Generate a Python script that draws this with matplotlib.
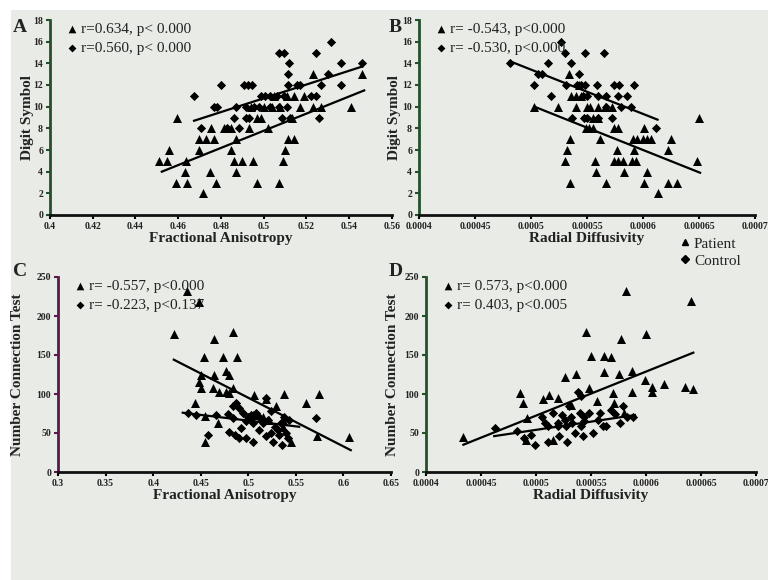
import matplotlib.pyplot as plt
from matplotlib.patches import Rectangle
from matplotlib.lines import Line2D
from matplotlib.ticker import FormatStrFormatter

# ---- panel A : Fractional Anisotropy vs Digit Symbol
a_pat_x = [0.451, 0.4546, 0.4557, 0.4595, 0.459, 0.4635, 0.463, 0.464, 0.4697, 0.4697,
           0.4715, 0.473, 0.4754, 0.4765, 0.475, 0.4777, 0.4815, 0.4846, 0.4846, 0.486,
           0.487, 0.487, 0.49, 0.493, 0.495, 0.497, 0.494, 0.497, 0.4985, 0.502,
           0.504, 0.507, 0.5077, 0.509, 0.51, 0.5115, 0.514, 0.513, 0.514, 0.519,
           0.517, 0.523, 0.523, 0.527, 0.541, 0.546, 0.511, 0.505, 0.5]
a_pat_y = [5, 5, 6, 9, 3, 5, 4, 3, 7, 6,
           2, 7, 8, 7, 4, 3, 8, 8, 6, 5,
           7, 4, 5, 8, 5, 3, 10, 9, 9, 8,
           10, 3, 10, 5, 6, 7, 7, 9, 11, 11,
           10, 13, 10, 10, 10, 13, 11, 11, 10]
a_con_x = [0.4672, 0.4705, 0.4766, 0.478, 0.48, 0.483, 0.486, 0.487, 0.4885, 0.4908,
           0.4926, 0.4946, 0.4915, 0.4915, 0.493, 0.4954, 0.4977, 0.4985, 0.5008, 0.503,
           0.503, 0.506, 0.507, 0.507, 0.5095, 0.5085, 0.512, 0.5115, 0.5115, 0.511,
           0.5125, 0.5154, 0.517, 0.5223, 0.5246, 0.5246, 0.526, 0.527, 0.53, 0.5315,
           0.536, 0.536, 0.546, 0.5095]
a_con_y = [11, 8, 10, 10, 12, 8, 9, 10, 8, 12,
           12, 12, 10, 9, 9, 10, 10, 11, 11, 11,
           10, 11, 10, 15, 15, 9, 14, 13, 12, 10,
           9, 12, 12, 11, 15, 11, 9, 12, 13, 16,
           14, 12, 14, 11]
a_fit_pat = ([0.4523, 0.547], [4.0, 11.5])
a_fit_con = ([0.4674, 0.546], [8.7, 13.7])

# ---- panel B : Radial Diffusivity vs Digit Symbol
b_pat_x = [0.000503, 0.000524, 0.000534, 0.000535, 0.000532, 0.00053, 0.000535, 0.00054, 0.000543, 0.000536,
           0.00054, 0.000545, 0.000549, 0.000552, 0.000555, 0.00055, 0.000555, 0.000557, 0.000558, 0.000562,
           0.00056, 0.000566, 0.000567, 0.000572, 0.000574, 0.000578, 0.000577, 0.000574, 0.000578, 0.000582,
           0.000583, 0.00059, 0.000594, 0.000592, 0.000591, 0.000595, 0.000601, 0.0006, 0.000604, 0.000607,
           0.000601, 0.000604, 0.000613, 0.000622, 0.00063, 0.000622, 0.000625, 0.000648, 0.00065, 0.000553,
           0.00056]
b_pat_y = [10, 10, 13, 7, 6, 5, 3, 10, 12, 11,
           11, 11, 8, 8, 8, 10, 9, 5, 4, 7,
           10, 10, 3, 10, 8, 8, 6, 5, 5, 5,
           4, 5, 5, 6, 7, 7, 8, 7, 7, 7,
           3, 4, 2, 3, 3, 6, 7, 5, 9, 10,
           9]
b_con_x = [0.000481, 0.000503, 0.000506, 0.00051, 0.000515, 0.000518, 0.000527, 0.00053, 0.000531, 0.000536,
           0.000543, 0.000537, 0.000547, 0.000541, 0.000545, 0.000548, 0.000548, 0.000546, 0.00055, 0.000559,
           0.00056, 0.00056, 0.000565, 0.000567, 0.000572, 0.000574, 0.000579, 0.000578, 0.00058, 0.000586,
           0.000589, 0.000592, 0.000612, 0.000567, 0.00055]
b_con_y = [14, 12, 13, 13, 14, 11, 16, 15, 12, 14,
           13, 9, 9, 12, 12, 12, 15, 11, 11, 12,
           9, 11, 15, 11, 9, 12, 12, 11, 10, 11,
           10, 12, 8, 10, 9]
b_fit_pat = ([0.000503, 0.000651], [10.0, 3.9])
b_fit_con = ([0.000481, 0.000613], [14.2, 8.8])

# ---- panel C : Fractional Anisotropy vs Number Connection Test
c_pat_x = [0.436, 0.4486, 0.4224, 0.4636, 0.4836, 0.4538, 0.4731, 0.488, 0.4503, 0.4643,
           0.4766, 0.48, 0.4486, 0.4503, 0.4626, 0.4696, 0.4766, 0.4836, 0.4444, 0.454,
           0.468, 0.454, 0.5063, 0.5185, 0.529, 0.5378, 0.5045, 0.5605, 0.5745, 0.5727,
           0.606, 0.5448, 0.536, 0.522, 0.515, 0.536, 0.48]
c_pat_y = [232, 218, 177, 170, 179, 148, 148, 148, 125, 125,
           129, 125, 115, 108, 108, 103, 103, 108, 89, 72,
           63, 38, 99, 93, 85, 100, 73, 88, 100, 46,
           45, 38, 67, 67, 71, 58, 101]
c_con_x = [0.4364, 0.4451, 0.4573, 0.466, 0.4783, 0.48, 0.4864, 0.4906, 0.4976, 0.5045,
           0.4836, 0.4871, 0.4906, 0.494, 0.4993, 0.5028, 0.508, 0.5115, 0.515, 0.5185,
           0.5203, 0.5238, 0.5238, 0.5283, 0.5308, 0.5326, 0.5343, 0.5378, 0.5396, 0.5431,
           0.5413, 0.535, 0.5255, 0.571, 0.4923, 0.4976, 0.5045, 0.5115, 0.5185, 0.4836]
c_con_y = [76, 73, 48, 73, 75, 51, 47, 44, 44, 39,
           84, 88, 82, 76, 71, 73, 76, 71, 63, 95,
           67, 78, 50, 58, 54, 48, 63, 71, 50, 67,
           44, 35, 39, 69, 56, 65, 63, 54, 46, 69]
c_fit_pat = ([0.4217, 0.6077], [144, 28])
c_fit_con = ([0.4311, 0.5535], [76, 58])

# ---- panel D : Radial Diffusivity vs Number Connection Test
d_pat_x = [0.000434, 0.000485, 0.000488, 0.000492, 0.000491, 0.000506, 0.000512, 0.00052, 0.000526, 0.000536,
           0.000545, 0.000548, 0.00055, 0.000562, 0.000568, 0.000562, 0.000577, 0.000582, 0.000575, 0.000587,
           0.000587, 0.0006, 0.000599, 0.000605, 0.000605, 0.000616, 0.000635, 0.000641, 0.000643, 0.00057,
           0.000555, 0.000515, 0.000532, 0.000571, 0.00058]
d_pat_y = [45, 101, 88, 69, 41, 94, 99, 95, 122, 126,
           179, 108, 149, 149, 148, 128, 170, 232, 126, 129,
           103, 177, 118, 109, 103, 113, 109, 219, 106, 101,
           91, 41, 86, 88, 76]
d_con_x = [0.000463, 0.000483, 0.000489, 0.000495, 0.000499, 0.000505, 0.000508, 0.000511, 0.000511, 0.000515,
           0.00052, 0.000521, 0.000524, 0.000526, 0.000527, 0.000528, 0.00053, 0.000532, 0.000533, 0.000535,
           0.000538, 0.00054, 0.000541, 0.000543, 0.000544, 0.000548, 0.000552, 0.000556, 0.000558, 0.000561,
           0.000564, 0.000568, 0.000572, 0.000576, 0.000579, 0.000583, 0.000588, 0.000541, 0.00052, 0.000544]
d_con_y = [56, 52, 44, 48, 35, 71, 63, 59, 39, 76,
           59, 46, 73, 67, 59, 39, 84, 71, 63, 50,
           103, 76, 59, 46, 71, 76, 50, 67, 76, 59,
           59, 80, 75, 63, 84, 71, 71, 97, 63, 65]
d_fit_pat = ([0.000434, 0.000643], [35, 153])
d_fit_con = ([0.000462, 0.00059], [46, 73])

fa_ticks_top = [0.4, 0.42, 0.44, 0.46, 0.48, 0.5, 0.52, 0.54, 0.56]
fa_ticks_bot = [0.3, 0.35, 0.4, 0.45, 0.5, 0.55, 0.6, 0.65]
rd_ticks = [0.0004, 0.00045, 0.0005, 0.00055, 0.0006, 0.00065, 0.0007]
ds_ticks = [0, 2, 4, 6, 8, 10, 12, 14, 16, 18]
nct_ticks = [0, 50, 100, 150, 200, 250]

labels = {
    'A': ('r=0.634, p< 0.000', 'r=0.560, p< 0.000'),
    'B': ('r= -0.543, p<0.000', 'r= -0.530, p<0.000'),
    'C': ('r= -0.557, p<0.000', 'r= -0.223, p<0.137'),
    'D': ('r= 0.573, p<0.000', 'r= 0.403, p<0.005'),
}

serif = 'Liberation Serif'
txt = '#222222'
green = '#24502c'
purple = '#5b1a4b'

fig = plt.figure(figsize=(7.68, 5.8), dpi=100, facecolor='white')
# slide background
fig.patches.append(Rectangle((11 / 768, 0), 1, 1 - 10 / 580, transform=fig.transFigure,
                             facecolor='#e8ebe6', edgecolor='none', zorder=-10))

W, H = 768, 580
def box(l, r, t, b):
    return [l / W, 1 - b / H, (r - l) / W, (b - t) / H]

panels = [
    ('A', box(50, 392, 20, 215), a_pat_x, a_pat_y, a_con_x, a_con_y, a_fit_pat, a_fit_con,
     fa_ticks_top, ds_ticks, 'Fractional Anisotropy', 'Digit Symbol', green, -0.047),
    ('B', box(419, 755, 20, 215), b_pat_x, b_pat_y, b_con_x, b_con_y, b_fit_pat, b_fit_con,
     rd_ticks, ds_ticks, 'Radial Diffusivity', 'Digit Symbol', green, -0.054),
    ('C', box(58, 391, 277, 472), c_pat_x, c_pat_y, c_con_x, c_con_y, c_fit_pat, c_fit_con,
     fa_ticks_bot, nct_ticks, 'Fractional Anisotropy', 'Number Connection Test', purple, -0.102),
    ('D', box(426, 756, 277, 472), d_pat_x, d_pat_y, d_con_x, d_con_y, d_fit_pat, d_fit_con,
     rd_ticks, nct_ticks, 'Radial Diffusivity', 'Number Connection Test', green, -0.082),
]

for name, pos, px, py, cx, cy, fp, fc, xt, yt, xl, yl, ycol, ylx in panels:
    ax = fig.add_axes(pos)
    ax.set_facecolor('none')
    hp = ax.scatter(px, py, marker='^', s=42, color='black', linewidths=0, zorder=3)
    hc = ax.scatter(cx, cy, marker='D', s=22, color='black', linewidths=0, zorder=3)
    ax.plot(fp[0], fp[1], color='black', lw=1.6, zorder=2)
    ax.plot(fc[0], fc[1], color='black', lw=1.6, zorder=2)
    ax.set_xlim(xt[0], xt[-1])
    ax.set_ylim(yt[0], yt[-1])
    ax.set_xticks(xt)
    ax.set_yticks(yt)
    ax.xaxis.set_major_formatter(FormatStrFormatter('%g'))
    for s in ['top', 'right']:
        ax.spines[s].set_visible(False)
    ax.spines['bottom'].set_linewidth(2)
    ax.spines['bottom'].set_color('#111111')
    ax.spines['left'].set_linewidth(2)
    ax.spines['left'].set_color(ycol)
    ax.tick_params(axis='both', direction='out', length=3, width=1.5, labelsize=7,
                   labelcolor=txt, pad=2)
    ax.tick_params(axis='y', color=ycol)
    for lab in ax.get_xticklabels() + ax.get_yticklabels():
        lab.set_family(serif)
        lab.set_fontweight('bold')
    ax.set_xlabel(xl, family=serif, fontweight='bold', fontsize=11, color=txt, labelpad=1)
    ax.set_ylabel(yl, family=serif, fontweight='bold', fontsize=11, color=txt)
    ax.yaxis.set_label_coords(ylx, 0.5)
    ax.legend([hp, hc], labels[name], loc='upper left', bbox_to_anchor=(0.02, 1.022),
              frameon=False, prop={'family': serif, 'size': 11}, handletextpad=0.0,
              handlelength=1.2, labelspacing=0.37, borderaxespad=0, markerscale=0.85,
              labelcolor=txt)

# panel letters
for letter, lx, ly in [('A', 20, 27), ('B', 395, 27), ('C', 20, 272), ('D', 396, 272)]:
    fig.text(lx / W, 1 - ly / H, letter, family=serif, fontweight='bold', fontsize=14,
             color=txt, ha='center', va='center')

# group legend
gh = [Line2D([], [], marker='^', ls='none', color='black', markersize=5),
      Line2D([], [], marker='D', ls='none', color='black', markersize=4)]
fig.legend(gh, ['Patient', 'Control'], loc='upper left', bbox_to_anchor=(671 / W, 1 - 231 / H),
           frameon=False, prop={'family': serif, 'size': 11}, handletextpad=0.1,
           handlelength=1.0, labelspacing=0.2, borderaxespad=0, labelcolor=txt)

fig.savefig('out.png', dpi=100, facecolor=fig.get_facecolor())
